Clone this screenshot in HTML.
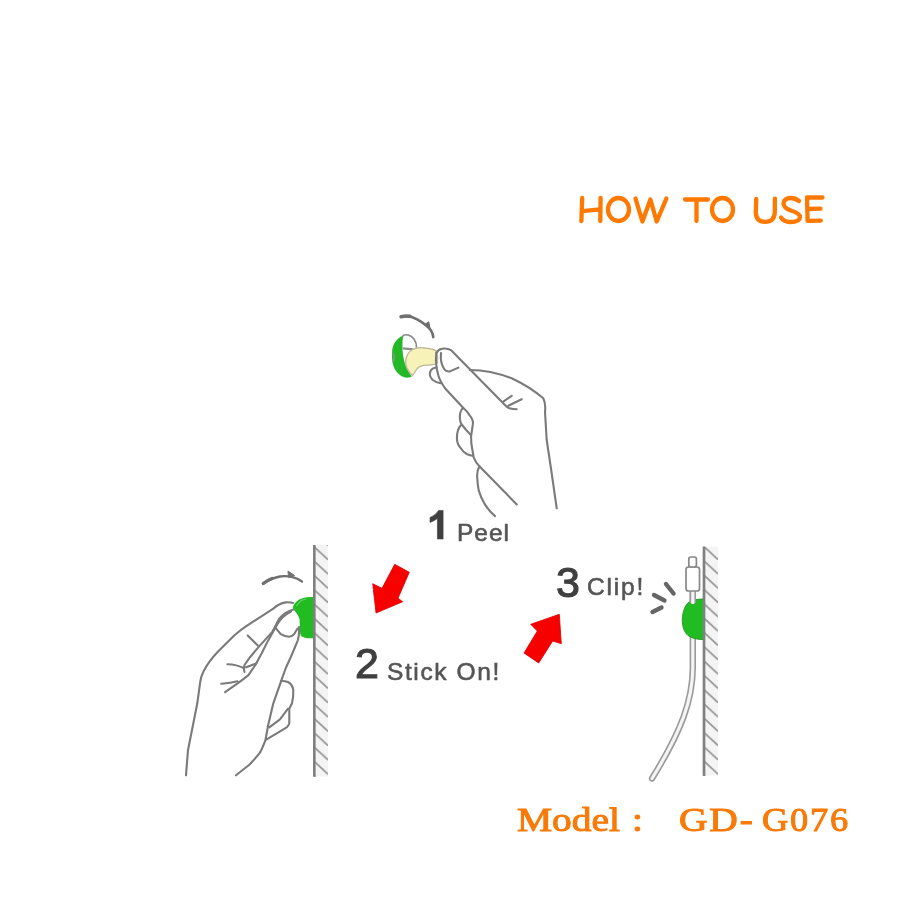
<!DOCTYPE html>
<html><head><meta charset="utf-8">
<style>
html,body{margin:0;padding:0;background:#fff;}
body{width:900px;height:900px;position:relative;overflow:hidden;font-family:"Liberation Sans",sans-serif;}
svg{position:absolute;left:0;top:0;}
.t{position:absolute;white-space:nowrap;line-height:1;}
.num{color:#3f3f3f;}
.wd{color:#555;}
.model{position:absolute;top:802.7px;font-family:"Liberation Serif",serif;font-weight:normal;font-size:34px;color:#F87A08;-webkit-text-stroke:1px #F87A08;white-space:nowrap;line-height:1;transform:scaleX(1.16);transform-origin:0 0;}
</style></head>
<body><div id="wrap" style="position:absolute;left:0;top:0;width:900px;height:900px;filter:blur(0.5px);">
<svg width="900" height="900" viewBox="0 0 900 900">
<defs>
  <pattern id="hatch" patternUnits="userSpaceOnUse" width="14" height="14.3" patternTransform="translate(314,690.7)">
    <path d="M0,-1 L14,12" stroke="#9a9a9a" stroke-width="1.8" fill="none"/>
    <path d="M0,-15.3 L14,-2.3" stroke="#9a9a9a" stroke-width="1.8" fill="none"/>
    <path d="M0,13.3 L14,26.3" stroke="#9a9a9a" stroke-width="1.8" fill="none"/>
  </pattern>
  <pattern id="hatch2" patternUnits="userSpaceOnUse" width="14" height="14.3" patternTransform="translate(704,662)">
    <path d="M0,-1 L14,12" stroke="#9a9a9a" stroke-width="1.8" fill="none"/>
    <path d="M0,-15.3 L14,-2.3" stroke="#9a9a9a" stroke-width="1.8" fill="none"/>
    <path d="M0,13.3 L14,26.3" stroke="#9a9a9a" stroke-width="1.8" fill="none"/>
  </pattern>
</defs>

<!-- HOW TO USE -->
<g fill="none" stroke="#FF7800" stroke-width="4.3" stroke-linecap="round" stroke-linejoin="round">
  <!-- H -->
  <path d="M582.2,198 L581.4,221 M600.6,198 L600.3,221 M582,211.2 L600.4,209.4"/>
  <!-- O -->
  <ellipse cx="618.5" cy="209.5" rx="10.5" ry="11.5"/>
  <!-- W -->
  <path d="M635.5,198.5 L642.4,221.5 L650.4,199.5 L656.7,221.5 L666.4,198.5"/>
  <!-- T -->
  <path d="M685,199.5 L708,199.5 M696.5,199.5 L696.5,221"/>
  <!-- O -->
  <ellipse cx="722.5" cy="209.5" rx="10.5" ry="11.5"/>
  <!-- U -->
  <path d="M756.2,199 L755.8,212 Q755.8,221.8 765,221.8 Q774.6,221.8 774.8,212 L774.9,198.6"/>
  <!-- S -->
  <path d="M799,201 Q795,197.8 790,198 Q784,198.5 783.5,203.5 Q783.5,208 791.5,210.8 Q800,213.5 800,217 Q800,222 790,222 Q784,222 781,217.5"/>
  <!-- E -->
  <path d="M822.5,197.5 L807,197.5 L807.6,220.8 L820.8,220.6 M808,209 L820.5,208.7"/>
</g>

<!-- ===== STEP 1: PEEL ===== -->
<!-- rotate arrow -->
<path d="M401.1,316.7 Q410,315 417.2,319.4 Q427,325 431.1,330.6 Q433,334 433.3,337.2" fill="none" stroke="#6f6f6f" stroke-width="2.6" stroke-linecap="round"/>
<path d="M401.1,316.7 Q406,315.5 410,316.3" fill="none" stroke="#6f6f6f" stroke-width="3.6" stroke-linecap="round"/>
<path d="M424.5,324.5 L428.8,321.8 L430,328.5 Z" fill="#6f6f6f" stroke="#6f6f6f" stroke-width="1" stroke-linejoin="round"/>
<!-- disc -->
<path d="M402.3,336 C397,338 393,344 392.3,349.3 C391.6,356 392,362 393.7,366.7 C395.5,371 399,375.5 404.3,377.3 C407,378 410,377.5 412,376.5 C408,372 405,365 404,360 C402.5,354 402.3,348 402.5,342 C402.6,339 403,337.5 403.5,336.5 Z" fill="#22B826"/>
<path d="M402.5,336 C406,333.5 411,335 414,339 C416,342 416.8,345 416.5,348" fill="none" stroke="#8c8c8c" stroke-width="1.7"/>
<path d="M403,348.3 L413,349.3" stroke="#8c8c8c" stroke-width="2.2"/>
<path d="M392.5,353 Q396,357 392.5,362" fill="none" stroke="#8f9a8f" stroke-width="2.2" opacity="0.6"/>
<!-- tape -->
<path d="M413,349.3 C418,347 422,347.5 425,348 C430,348.5 434,349.5 436.5,351 C437.5,355 437.8,359 437.5,363 C435,365 430,365.3 423.7,365.3 C420,366 417,368 415.5,371 C414.5,373 413.7,374.7 412.5,375.5 C407.5,371 405.5,366 405.7,361.3 C406,357 408,352 413,349.3 Z" fill="#F6F2B8" stroke="#bdb89a" stroke-width="1.3"/>
<g fill="none" stroke="#7a7a7a" stroke-width="2.1" stroke-linecap="round" stroke-linejoin="round">
  <!-- thumb -->
  <path d="M436.7,352.8 Q438,349.5 442,348.8 Q447,347.8 451.4,350.4 L506.7,406.7 Q509,409 516.7,409.2"/>
  <path d="M436.3,352.5 L435.9,360.6 Q436,368 438.5,376 Q440,381 445.2,388.5 L463.1,407.8 Q467,411 469.3,414.9 Q473.5,420 472.9,423.8 L471.1,436.2 Q471,443 472,447.8 L473.8,457.6 Q476,463 479.4,466.3 L516.8,504.4"/>
  <path d="M441,353 Q440.5,358 441.3,362.1 Q443,369 446,370.7 Q448,371.6 449.9,371.4 L458.4,367.6"/>
  <!-- index tip -->
  <path d="M436.7,367.5 Q432,368 430.5,371 Q428.5,376 432.8,380 Q436,382.5 440.6,383.1"/>
  <!-- back of hand -->
  <path d="M470,370 Q490,370 511.7,378.3 Q530,387 543.3,398.3 Q546,404 545,412 L546.7,440 L551.7,473.3 L556.7,508.3"/>
  <!-- knuckle lines -->
  <path d="M503.3,401.7 L511.7,395.8 M508.3,405.8 L521.7,399.2"/>
  <!-- curled fingers -->
  <path d="M463.1,407.8 Q459,412 460,419.3 Q460.5,423 461.3,423.8 Q465,429 471.1,435.3"/>
  <path d="M461.3,424.7 Q457,429 456.9,438 Q457,444 460.4,447.8 Q463,452 466.7,454 Q470,455.5 472.9,455.8"/>
  <path d="M479.4,466.3 Q477,471 477.1,475.7 Q477.5,484 478.7,490.4 Q481,498 484.9,504.4 Q489,511 495,516.1"/>
</g>

<!-- ===== STEP 2: STICK ON ===== -->
<!-- wall -->
<rect x="314" y="545" width="14" height="231.5" fill="#f4f4f4"/>
<rect x="314" y="545" width="14" height="231.5" fill="url(#hatch)"/>
<line x1="314.2" y1="545" x2="314.2" y2="776.5" stroke="#808080" stroke-width="2.4"/>
<!-- green blob -->
<path d="M314.2,597 C306,596.5 300,598 296.5,601.5 C293.5,604 292.5,607 293.2,609 C295.5,612 298.5,615 299.5,619 C300,625 299.5,631 300.5,635 C302,637.5 306,638.5 314.2,638.3 Z" fill="#20BC22"/>
<line x1="314.2" y1="545" x2="314.2" y2="776.5" stroke="#808080" stroke-width="2.4"/>
<path d="M296.5,606 C299,601.5 303,599.5 306,599" fill="none" stroke="#7fd07f" stroke-width="1.2" opacity="0.8"/>
<!-- arrow -->
<path d="M263.3,583.5 Q270,578.5 280,576.5 Q292,575 302,581.5" fill="none" stroke="#707070" stroke-width="2.3" stroke-linecap="round"/>
<path d="M263.3,583.5 Q267,580.5 272,578.5" fill="none" stroke="#707070" stroke-width="3.4" stroke-linecap="round"/>
<path d="M288,571 L294.5,575.5 L288.5,577.5 Z" fill="#707070" stroke="#707070" stroke-width="1" stroke-linejoin="round"/>
<g fill="none" stroke="#7a7a7a" stroke-width="2.1" stroke-linecap="round" stroke-linejoin="round">
  <!-- index finger top edge + hand left edge -->
  <path d="M293,603 Q290,602 285.6,602.4 Q279,603.5 273.3,608.6 L248.9,624.4 Q241,629.5 234.2,635.5 L218.3,651.3 Q209,661 203.7,670.9 Q200.5,677 200,683.3 L197.3,703.3 L192,730 L188,750 L186,775.3"/>
  <!-- thumb left edges (double) -->
  <path d="M293.5,609.5 Q285,611.5 279,619 L272.5,631.6 L258.5,647.1 L250,657.2 L244.5,665 Q243.5,669 244.5,672"/>
  <path d="M291,611.5 Q282,616 277.5,624 L267.9,640.9 L261.7,653.3 L255.4,665 L248.4,675.1 Q243,679.5 238.3,682.9 L225.1,692.2"/>
  <path d="M246.1,667.3 L256.2,663.4"/>
  <!-- small crease lines -->
  <path d="M247.7,635.4 L257.8,645.6"/>
  <path d="M227.4,664.2 Q237,664.5 243.8,668.1"/>
  <path d="M221.2,683.7 Q231,683 237.6,681.3"/>
  <!-- nail -->
  <path d="M275.8,628.1 L280.7,634.2 Q285,636.7 289.2,636.7 Q292.5,636.3 294.1,634.2 L297.5,628.5"/>
  <!-- thumb right edge + palm -->
  <path d="M299,627 Q299.5,635 297.8,640.3 L291.7,655 L285.6,668.5 L281.3,680.7 L273.3,703.3 L268,726 L265.3,740.7 Q262.5,748 260,752.7 Q255,759 249.3,764.7 L236,775.3"/>
  <!-- lower curled finger -->
  <path d="M281.3,680.7 Q285,681 288,682 Q292.5,684.5 293.3,690 Q293.5,697 292,703.3 L289.3,708.7 L289.3,723.3 Q288.5,726 286.7,727.3 L266.7,739.3"/>
  <path d="M288,708.7 Q284,714 280,719.3 L269.3,727.3"/>
</g>

<!-- ===== STEP 3: CLIP ===== -->
<rect x="704" y="546.7" width="14" height="229" fill="#f4f4f4"/>
<rect x="704" y="546.7" width="14" height="229" fill="url(#hatch2)"/>
<line x1="704" y1="546.7" x2="704" y2="775.8" stroke="#808080" stroke-width="2.4"/>
<!-- cable -->
<path d="M692.8,592 L692.8,668 C692.5,700 682,730 652,778.5" fill="none" stroke="#9a9a9a" stroke-width="6.4" stroke-linecap="round"/>
<path d="M692.8,592 L692.8,668 C692.5,700 682,730 652,778.5" fill="none" stroke="#f4f4f4" stroke-width="3.2" stroke-linecap="round"/>
<!-- green blob -->
<path d="M704,599 C696,599 689,600.5 686.5,604.5 C683.5,609 682.2,615 682.3,620.6 C682.5,627 684,632 688,635.5 C692,638.5 697,639.5 704,639.5 Z" fill="#20BC22" stroke="#2f9a30" stroke-width="1"/>
<line x1="704" y1="546.7" x2="704" y2="775.8" stroke="#808080" stroke-width="2.4"/>
<path d="M692.8,590 L692.8,603" fill="none" stroke="#9a9a9a" stroke-width="6.4"/><path d="M692.8,590 L692.8,604" fill="none" stroke="#f4f4f4" stroke-width="3.2"/>
<!-- connector -->
<rect x="686" y="567" width="13.5" height="24" rx="2.5" fill="#fff" stroke="#888" stroke-width="1.7"/>
<rect x="688.8" y="557" width="7.6" height="10" rx="2" fill="#fff" stroke="#888" stroke-width="1.7"/>
<!-- dashes -->
<g stroke="#666" stroke-width="4.4" stroke-linecap="round">
  <path d="M666,584 L673.5,593.5"/>
  <path d="M654,595 L664.5,600.5"/>
  <path d="M652.5,612 L661.5,607.5"/>
</g>

<!-- red arrows -->
<path d="M394.7,564.3 L409.3,572.3 L398,598.3 L402.7,601.7 L376,613 L372.7,583.7 L382,588.3 Z" fill="#F60000" stroke="#d00" stroke-width="0.8"/>
<path d="M559.3,614.3 L561.3,643.7 L552.7,641 L538.7,663 L524,653 L537.3,631 L530.7,624.3 Z" fill="#F60000" stroke="#d00" stroke-width="0.8"/>
<!-- digit 1 -->
<path d="M437.4,539 L443.1,539 L443.1,510.4 L438.6,510.4 Q436,514.8 430,517.6 L430,522.4 Q434,521 437.4,518.6 Z" fill="#3f3f3f" stroke="#3f3f3f" stroke-width="0.6" stroke-linejoin="round"/>
</svg>

<!-- step labels -->
<div class="t wd" style="left:457px;top:521px;font-size:24.5px;letter-spacing:1px;-webkit-text-stroke:0.6px #555;">Peel</div>
<div class="t num" style="left:355px;top:642px;font-size:43px;-webkit-text-stroke:1.1px #3f3f3f;">2</div>
<div class="t wd" style="left:387px;top:659.5px;font-size:24.5px;letter-spacing:1.6px;-webkit-text-stroke:0.6px #555;">Stick On!</div>
<div class="t num" style="left:556px;top:561px;font-size:43px;-webkit-text-stroke:1.1px #3f3f3f;">3</div>
<div class="t wd" style="left:587px;top:575px;font-size:24.5px;letter-spacing:1.8px;-webkit-text-stroke:0.6px #555;">Clip!</div>

<div class="model" style="left:517px;">Model</div>
<div class="model" style="left:632px;">:</div>
<div class="model" style="left:679px;letter-spacing:1.6px;">GD-</div>
<div class="model" style="left:762px;letter-spacing:1.7px;transform:scaleX(1.07);">G076</div>
</div></body></html>
